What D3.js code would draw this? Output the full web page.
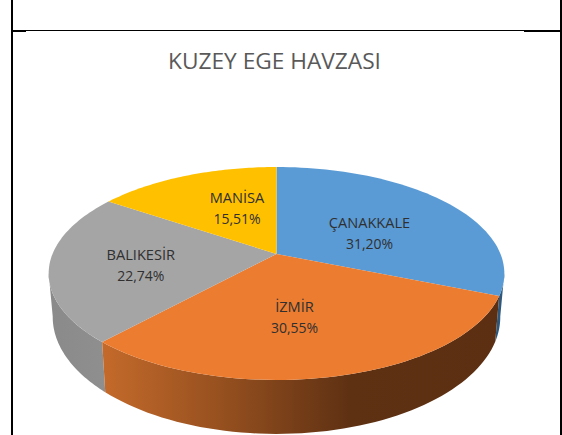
<!DOCTYPE html>
<html><head><meta charset="utf-8">
<script src="https://cdnjs.cloudflare.com/ajax/libs/d3/7.8.5/d3.min.js"></script>
<style>html,body{margin:0;padding:0;background:#fff;overflow:hidden}svg{display:block}</style>
</head><body><svg id="c" width="562" height="435"></svg>
<script>
const chartTitle = "KUZEY EGE HAVZASI";
const categories = ["ÇANAKKALE","İZMİR","BALIKESİR","MANİSA"];
const values = [31.20,30.55,22.74,15.51];
const colors = ["#5B9BD5","#EB7C30","#A5A5A5","#FFC000"];
const labelAnchors = [[369.5,228],[294.5,311.5],[140.8,259.5],[237,203]];

const svg = d3.select("#c");
const pie = d3.pie().sort(null).value(d=>d).startAngle(0).endAngle(2*Math.PI);
const slices = pie(values);

// perspective disc: top face and the bottom rim
const k = 0.183;
function proj(a, cx, cy, R, S){
  const u = Math.sin(a), v = -Math.cos(a), w = 1 - k*v;
  return [cx + R*u/w, cy + S*v/w];
}
const topP = a => proj(a, 276.5, 254, 224, 102.9);
const botP = a => proj(a, 276.5, 295.6, 220, 113);
const arcPts = (f,a0,a1) => d3.range(0,61).map(i=>f(a0+(a1-a0)*i/60));
const line = d3.line();

const defs = svg.append("defs");
function grad(id, x1, x2, stops){
  const g = defs.append("linearGradient").attr("id",id).attr("gradientUnits","userSpaceOnUse")
    .attr("x1",x1).attr("x2",x2).attr("y1",0).attr("y2",0);
  stops.forEach(s=>g.append("stop").attr("offset",s[0]).attr("stop-color",s[1]));
}
grad("g0",480,505,[[0,"#2a4f70"],[1,"#2f5a80"]]);
grad("g1",102,500,[[0,"#c46a2b"],[0.3,"#96501f"],[0.62,"#5f3113"],[1,"#5c2f12"]]);
grad("g2",49,108,[[0,"#8a8a8a"],[1,"#8f8f8f"]]);

// side wall: only the front-facing part of the rim
const frontA = 100.3*Math.PI/180, frontB = 259.7*Math.PI/180;
[0,2,1].forEach(i=>{
  const s = slices[i];
  const a0 = Math.max(s.startAngle, frontA), a1 = Math.min(s.endAngle, frontB);
  if(a1<=a0) return;
  const pts = arcPts(topP,a0,a1).concat(arcPts(botP,a0,a1).reverse());
  svg.append("path").attr("d",line(pts)+"Z").attr("fill",`url(#g${i})`);
});

// top face
slices.forEach((s,i)=>{
  const pts = [[276.5,254]].concat(arcPts(topP,s.startAngle,s.endAngle));
  svg.append("path").attr("d",line(pts)+"Z").attr("fill",colors[i]);
});

// labels
const font = "'Open Sans','Noto Sans',sans-serif";
categories.forEach((c,i)=>{
  const t = svg.append("text").attr("text-anchor","middle").attr("fill","#303030")
    .attr("font-family",font);
  t.append("tspan").attr("x",labelAnchors[i][0]).attr("y",labelAnchors[i][1]).attr("font-size",14.6).text(c);
  t.append("tspan").attr("x",labelAnchors[i][0]).attr("y",labelAnchors[i][1]+21.3).attr("font-size",14)
    .text(values[i].toFixed(2).replace(".",",")+"%");
});

svg.append("text").attr("x",274.5).attr("y",69).attr("text-anchor","middle")
  .attr("font-family",font).attr("font-size",22.7).attr("fill","#595959").text(chartTitle);

// page frame
[[11,0,2,435],[560,0,2,435],[13,30,547,1],[13,30,13,2],[524,30,36,2]].forEach(r=>
  svg.append("rect").attr("x",r[0]).attr("y",r[1]).attr("width",r[2]).attr("height",r[3]).attr("fill","#000"));
</script></body></html>
